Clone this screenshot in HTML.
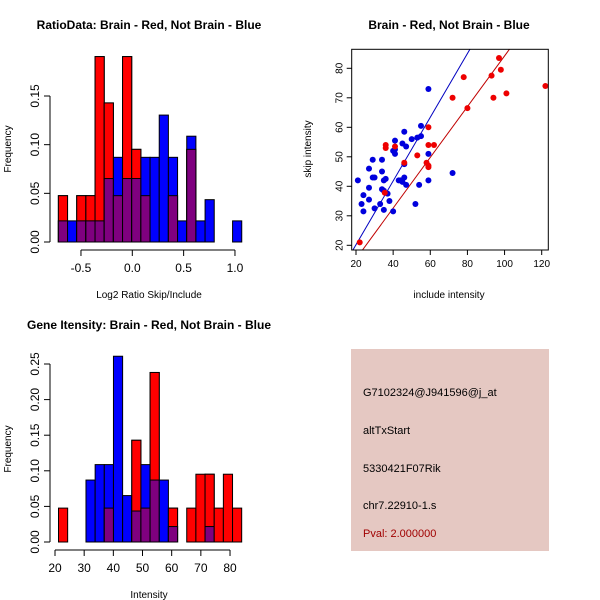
<!DOCTYPE html>
<html><head><meta charset="utf-8"><style>
body{margin:0;background:#fff}
svg{display:block;font-family:"Liberation Sans",sans-serif}
</style></head><body>
<svg id="s" width="600" height="600" viewBox="0 0 600 600">
<rect width="600" height="600" fill="#fff"/>
<g id="p1"></g>
<g id="p2"></g>
<g id="p3"></g>
<g>
<rect x="351" y="349" width="198" height="202" fill="#e5c8c2"/>
<text x="363" y="396" font-size="11">G7102324@J941596@j_at</text>
<text x="363" y="434" font-size="11">altTxStart</text>
<text x="363" y="472" font-size="11">5330421F07Rik</text>
<text x="363" y="509" font-size="11">chr7.22910-1.s</text>
<text x="363" y="537" font-size="11" fill="#a00000">Pval: 2.000000</text>
</g>
</svg>
<script>
// Histogram 1 data
const h1Red  = [0.0476,0,0.0476,0.0476,0.1905,0.1429,0.0476,0.1905,0.0952,0.0476,0,0,0.0476,0,0.0952,0,0,0,0,0];
const h1Blue = [0.0217,0.0217,0.0217,0.0217,0.0217,0.0652,0.087,0.0652,0.0652,0.087,0.087,0.1304,0.087,0.0217,0.1087,0.0217,0.0435,0,0,0.0217];
const h1Start = -0.72, h1Width = 0.0893;
const h1XTicks = [-0.5,0,0.5,1.0], h1XLabels = ["-0.5","0.0","0.5","1.0"];
const h1YTicks = [0,0.05,0.10,0.15], h1YLabels = ["0.00","0.05","0.10","0.15"];
// Histogram 2 data
const h2Red  = [0.0476,0,0,0,0,0.0476,0,0,0.1429,0.0476,0.2381,0,0.0476,0,0.0476,0.0952,0.0952,0.0476,0.0952,0.0476];
const h2Blue = [0,0,0,0.087,0.1087,0.1087,0.2609,0.0652,0.0435,0.1087,0.087,0.087,0.0217,0,0,0,0.0217,0,0,0];
const h2Start = 21.2, h2Width = 3.14;
const h2XTicks = [20,30,40,50,60,70,80], h2XLabels = ["20","30","40","50","60","70","80"];
const h2YTicks = [0,0.05,0.10,0.15,0.20,0.25], h2YLabels = ["0.00","0.05","0.10","0.15","0.20","0.25"];
// Scatter data
const redX = [22,36,36,41,46,53,58,59,59,59,59,62,72,78,80,93,94,97,98,101,122,35.5];
const redY = [21,53,54,53.5,48,50.5,48,47,46.5,54,60,54,70,77,66.5,77.5,70,83.5,79.5,71.5,74,37.8];
const blueX = [21,23,24,24,27,27,27,29,29,30,30,33,34,34,34,35,35,36,35,37,38,40,40,41,41,41,44,45,45,46,46,46,47,47,50,52,53,54,55,55,59,59,59,72,43];
const blueY = [42,34,37,31.5,46,39.5,35.5,49,43,43,32.5,34,49,45,39,38.5,42,42.5,32,37.5,35,31.5,52,55.5,51,52.5,42,41.5,54.5,58.5,47.5,43,53.5,40.5,56,34,56.5,40.5,60.5,57,73,51,42,44.5,42];
const fitBlue = [-1.4,1.08], fitRed = [-1.8,0.86];
const scXTicks = [20,40,60,80,100,120], scYTicks = [20,30,40,50,60,70,80];

const NS="http://www.w3.org/2000/svg";
function mk(parent,tag,attrs,txt){const e=document.createElementNS(NS,tag);for(const k in attrs)e.setAttribute(k,attrs[k]);if(txt!==undefined)e.textContent=txt;parent.appendChild(e);return e;}

function hist(g,red,blue,start,w,xt,xl,yt,yl,sx,sy,axY,axX){
  for(let i=0;i<red.length;i++){
    const x0=sx(start+i*w), x1=sx(start+(i+1)*w);
    const r=red[i], b=blue[i], m=Math.min(r,b);
    if(r>0){const e=mk(g,'rect',{x:x0,y:sy(r),width:x1-x0,height:sy(0)-sy(r),fill:'#ff0000',stroke:'#000','stroke-width':1});
      
      }
    if(b>0){const e=mk(g,'rect',{x:x0,y:sy(b),width:x1-x0,height:sy(0)-sy(b),fill:'#0000ff',stroke:'#000','stroke-width':1});
      
      }
    if(r>0&&b>0){
      if(r>b) mk(g,'rect',{x:x0,y:sy(r),width:x1-x0,height:sy(0)-sy(r),fill:'#ff0000',stroke:'#000','stroke-width':1});
      const e=mk(g,'rect',{x:x0,y:sy(m),width:x1-x0,height:sy(0)-sy(m),fill:'#7f007f',stroke:'#000','stroke-width':1});
      
      }
  }
  const ya=mk(g,'g',{});
  
  
  mk(ya,'line',{x1:axX,x2:axX,y1:sy(yt[0]),y2:sy(yt[yt.length-1]),stroke:'#000'});
  yt.forEach((v,i)=>{mk(ya,'line',{x1:axX-6,x2:axX,y1:sy(v),y2:sy(v),stroke:'#000'});
    mk(ya,'text',{x:0,y:0,'font-size':12,'text-anchor':'middle',transform:`translate(${axX-11},${sy(v)}) rotate(-90)`},yl[i]);});
  const xa=mk(g,'g',{});
  
  
  mk(xa,'line',{x1:sx(xt[0]),x2:sx(xt[xt.length-1]),y1:axY,y2:axY,stroke:'#000'});
  xt.forEach((v,i)=>{mk(xa,'line',{x1:sx(v),x2:sx(v),y1:axY,y2:axY+6,stroke:'#000'});
    mk(xa,'text',{x:sx(v),y:axY+22,'font-size':12,'text-anchor':'middle'},xl[i]);});
}

// Panel 1
(function(){
  const g=document.getElementById('p1');
  const sx=v=>132.3+v*102.67, sy=v=>242-v*973.3;
  hist(g,h1Red,h1Blue,h1Start,h1Width,h1XTicks,h1XLabels,h1YTicks,h1YLabels,sx,sy,250,50);
  let t=mk(g,'text',{x:149,y:29,'font-size':12,'font-weight':'bold','text-anchor':'middle'},'RatioData: Brain - Red, Not Brain - Blue');
  
  t=mk(g,'text',{x:149,y:298,'font-size':10,'text-anchor':'middle'},'Log2 Ratio Skip/Include');
  
  t=mk(g,'text',{x:0,y:0,'font-size':10,'text-anchor':'middle',transform:'translate(11,149) rotate(-90)'},'Frequency');
  
})();
// Panel 3
(function(){
  const g=document.getElementById('p3');
  const sx=v=>55+(v-20)*2.917, sy=v=>542-v*712;
  hist(g,h2Red,h2Blue,h2Start,h2Width,h2XTicks,h2XLabels,h2YTicks,h2YLabels,sx,sy,550,50);
  let t=mk(g,'text',{x:149,y:329,'font-size':12,'font-weight':'bold','text-anchor':'middle'},'Gene Itensity: Brain - Red, Not Brain - Blue');
  
  t=mk(g,'text',{x:149,y:598,'font-size':10,'text-anchor':'middle'},'Intensity');
  
  t=mk(g,'text',{x:0,y:0,'font-size':10,'text-anchor':'middle',transform:'translate(11,449) rotate(-90)'},'Frequency');
  
})();
// Panel 2 scatter
(function(){
  const g=document.getElementById('p2');
  const L=351.7,R=548.3,T=49.3,B=250;
  const sx=v=>356+(v-20)*1.857, sy=v=>245.3-(v-20)*2.95;
  const cp=mk(g,'clipPath',{id:'cp'});mk(cp,'rect',{x:L,y:T,width:R-L,height:B-T});
  const lines=mk(g,'g',{'clip-path':'url(#cp)'});
  [[fitBlue,'#0000c0','fit-line-blue'],[fitRed,'#c00000','fit-line-red']].forEach(([f,c,n])=>{
    const e=mk(lines,'line',{x1:sx(0),y1:sy(f[0]),x2:sx(140),y2:sy(f[0]+f[1]*140),stroke:c,'stroke-width':1});
    
    
  });
  blueX.forEach((x,i)=>{const e=mk(g,'circle',{cx:sx(x),cy:sy(blueY[i]),r:3,fill:'#0000dd'});
    
    });
  redX.forEach((x,i)=>{const e=mk(g,'circle',{cx:sx(x),cy:sy(redY[i]),r:3,fill:'#ee0000'});
    
    });
  mk(g,'rect',{x:L,y:T,width:R-L,height:B-T,fill:'none',stroke:'#000'});
  scXTicks.forEach(v=>{mk(g,'line',{x1:sx(v),x2:sx(v),y1:B,y2:B+5,stroke:'#000'});
    const t=mk(g,'text',{x:sx(v),y:B+17,'font-size':10,'text-anchor':'middle'},String(v));
    });
  scYTicks.forEach(v=>{mk(g,'line',{x1:L-5,x2:L,y1:sy(v),y2:sy(v),stroke:'#000'});
    const t=mk(g,'text',{x:0,y:0,'font-size':10,'text-anchor':'middle',transform:`translate(${L-9},${sy(v)}) rotate(-90)`},String(v));
    });
  let t=mk(g,'text',{x:449,y:29,'font-size':12,'font-weight':'bold','text-anchor':'middle'},'Brain - Red, Not Brain - Blue');
  
  t=mk(g,'text',{x:449,y:298,'font-size':10,'text-anchor':'middle'},'include intensity');
  
  t=mk(g,'text',{x:0,y:0,'font-size':10,'text-anchor':'middle',transform:'translate(311,149) rotate(-90)'},'skip intensity');
  
})();
</script>
</body></html>
